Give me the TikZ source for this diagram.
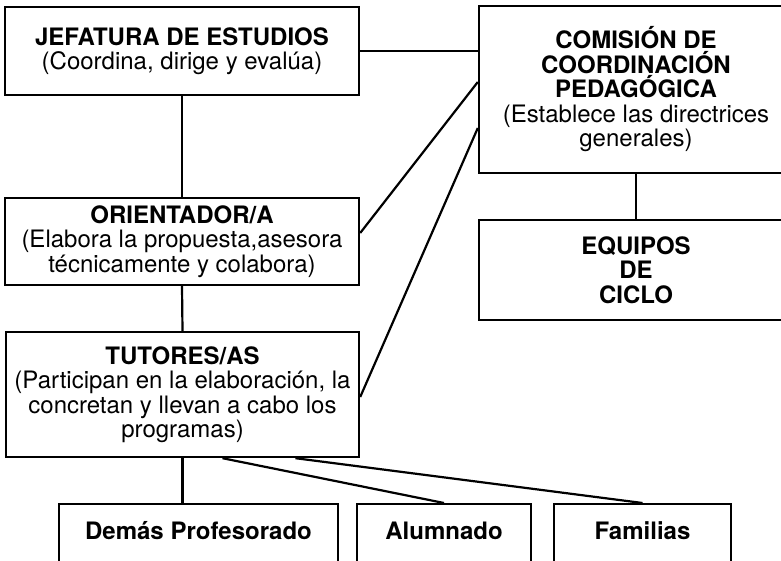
\documentclass[tikz,border=0pt]{standalone}
\usepackage{fontspec}
\setmainfont{TeX Gyre Heros}
\begin{document}
\begin{tikzpicture}[
		x=1pt, y=-1pt,
		b/.style = {rectangle, draw=black, line width=2.4pt, align=center, inner sep=0pt, font=\fontsize{24}{24.5}\selectfont},
		bb/.style = {b, anchor=north, text height=35pt, text depth=60pt},
		l/.style = {line width=2.2pt}
		]
		\useasboundingbox (0,0) rectangle (781,561);
		\clip (0,0) rectangle (781,561);
		
		%Nodes
		\node[b, minimum width=354, minimum height=88]	(jef)	at	(182, 51)	{\textbf{JEFATURA DE ESTUDIOS}\\(Coordina, dirige y evalúa)};
		\node[b, minimum width=354, minimum height=87]	(ori)	at	(182, 241.5)	{\textbf{ORIENTADOR/A}\\(Elabora la propuesta,asesora\\técnicamente y colabora)};
		\node[b, minimum width=353, minimum height=125]	(tut)	at	(182.5, 394.5)	{\textbf{TUTORES/AS}\\(Participan en la elaboración, la\\concretan y llevan a cabo los\\programas)};
		\node[b, minimum width=314, minimum height=167]	(ccp)	at	(636, 89.5)	{\textbf{COMISIÓN DE}\\\textbf{COORDINACIÓN}\\\textbf{PEDAGÓGICA}\\(Establece las directrices\\generales)};
		\node[b, minimum width=314, minimum height=100]	(eq)	at	(636, 270)	{\textbf{EQUIPOS}\\\textbf{DE}\\\textbf{CICLO}};
		\node[bb, minimum width=279]	(dem)	at	(198.5, 503)	{\textbf{Demás Profesorado}};
		\node[bb, minimum width=174]	(alu)	at	(444, 503)	{\textbf{Alumnado}};
		\node[bb, minimum width=177]	(fam)	at	(642.5, 503)	{\textbf{Familias}};
		
		%Lines
		\draw[l]	(jef.south)	--	(ori.north);
		\draw[l]	(ori.south)	--	(tut.north);
		\draw[l]	(jef.east)	--	(jef.east -| ccp.west);
		\draw[l]	(ccp.south)	--	(eq.north);
		\draw[l]	([yshift=7.5pt]ccp.west)	--	([yshift=8.5pt]ori.east);
		\draw[l]	([yshift=-38.5pt]ccp.west)	--	([yshift=-2.5pt]tut.east);
		\draw[l]	(tut.south)	--	(tut.south |- dem.north);
		\draw[l]	([xshift=40pt]tut.south)	--	(alu.north);
		\draw[l]	([xshift=113pt]tut.south)	--	(fam.north);
	\end{tikzpicture}
\end{document}
